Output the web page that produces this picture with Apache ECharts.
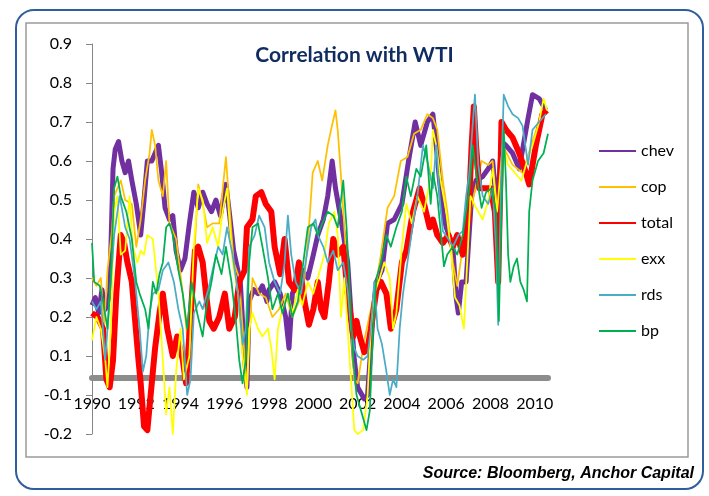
<!DOCTYPE html>
<html>
<head>
<meta charset="utf-8">
<script src="https://cdn.jsdelivr.net/npm/echarts@6/dist/echarts.min.js"></script>
<style>
  html, body { margin: 0; padding: 0; background: #fff; }
  #chart { width: 709px; height: 496px; }
</style>
</head>
<body>
<div id="chart"></div>
<script>
// values are in the axis' own linear units; labels come from yTickLabels
var yTickLabels = ['-0.2', '-0.1', '0.1', '0.2', '0.3', '0.4', '0.5', '0.6', '0.7', '0.8', '0.9']
var yearTicks = [1990, 1992, 1994, 1996, 1998, 2000, 2002, 2004, 2006, 2008, 2010]

var chev = [[1990.0,0.23],[1990.15,0.25],[1990.3,0.21],[1990.45,0.27],[1990.6,0.22],[1990.8,0.26],[1990.95,0.58],[1991.05,0.63],[1991.2,0.65],[1991.35,0.6],[1991.5,0.57],[1991.65,0.6],[1991.8,0.55],[1992.0,0.49],[1992.2,0.41],[1992.35,0.5],[1992.5,0.6],[1992.7,0.6],[1992.85,0.62],[1993.0,0.64],[1993.15,0.57],[1993.3,0.48],[1993.5,0.45],[1993.65,0.46],[1993.8,0.37],[1994.0,0.32],[1994.2,0.35],[1994.4,0.44],[1994.6,0.52],[1994.8,0.48],[1995.0,0.52],[1995.2,0.49],[1995.4,0.47],[1995.6,0.5],[1995.8,0.46],[1996.05,0.54],[1996.2,0.47],[1996.4,0.37],[1996.7,0.29],[1996.9,0.09],[1997.0,0.02],[1997.1,0.24],[1997.3,0.27],[1997.5,0.26],[1997.7,0.28],[1997.9,0.24],[1998.0,0.27],[1998.25,0.29],[1998.5,0.26],[1998.75,0.2],[1998.9,0.12],[1999.05,0.26],[1999.3,0.29],[1999.5,0.32],[1999.75,0.3],[2000.0,0.36],[2000.2,0.41],[2000.45,0.45],[2000.65,0.51],[2000.85,0.6],[2001.0,0.53],[2001.25,0.45],[2001.55,0.34],[2001.7,0.21],[2001.85,0.09],[2002.0,0.02],[2002.3,-0.01],[2002.45,0.0],[2002.7,0.21],[2002.85,0.29],[2003.1,0.32],[2003.35,0.44],[2003.65,0.45],[2004.0,0.49],[2004.3,0.6],[2004.6,0.7],[2004.85,0.64],[2005.15,0.7],[2005.4,0.72],[2005.55,0.64],[2005.7,0.55],[2005.85,0.47],[2006.0,0.43],[2006.3,0.38],[2006.45,0.25],[2006.55,0.21],[2006.7,0.29],[2006.9,0.29],[2007.0,0.38],[2007.15,0.51],[2007.35,0.55],[2007.65,0.56],[2007.9,0.58],[2008.1,0.6],[2008.3,0.47],[2008.5,0.65],[2008.7,0.64],[2009.0,0.62],[2009.3,0.58],[2009.7,0.71],[2009.9,0.77],[2010.2,0.76],[2010.5,0.73]]

var cop = [[1990.0,0.3],[1990.2,0.28],[1990.4,0.3],[1990.55,0.18],[1990.7,0.32],[1990.9,0.42],[1991.0,0.51],[1991.3,0.55],[1991.5,0.5],[1991.8,0.49],[1992.0,0.38],[1992.2,0.45],[1992.4,0.55],[1992.6,0.62],[1992.7,0.68],[1992.85,0.64],[1993.0,0.55],[1993.2,0.51],[1993.35,0.6],[1993.5,0.44],[1993.8,0.4],[1994.1,0.26],[1994.3,0.15],[1994.6,0.34],[1994.8,0.54],[1995.0,0.49],[1995.2,0.43],[1995.45,0.44],[1995.75,0.44],[1996.05,0.61],[1996.2,0.49],[1996.4,0.34],[1996.65,0.3],[1996.9,0.09],[1997.0,0.02],[1997.25,0.3],[1997.55,0.26],[1997.85,0.25],[1998.15,0.2],[1998.45,0.22],[1998.75,0.26],[1999.05,0.2],[1999.35,0.24],[1999.6,0.3],[1999.8,0.43],[1999.97,0.57],[2000.2,0.6],[2000.4,0.55],[2000.65,0.64],[2000.8,0.68],[2001.0,0.73],[2001.1,0.68],[2001.25,0.56],[2001.4,0.43],[2001.55,0.3],[2001.7,0.17],[2001.85,0.04],[2002.0,0.03],[2002.3,0.14],[2002.6,0.22],[2002.85,0.29],[2003.05,0.36],[2003.35,0.48],[2003.65,0.51],[2003.95,0.6],[2004.25,0.61],[2004.55,0.67],[2004.85,0.68],[2005.15,0.72],[2005.4,0.71],[2005.6,0.68],[2005.85,0.55],[2006.05,0.47],[2006.3,0.34],[2006.5,0.28],[2006.75,0.38],[2007.0,0.44],[2007.2,0.5],[2007.6,0.6],[2007.9,0.59],[2008.1,0.6],[2008.3,0.47],[2008.55,0.64],[2009.0,0.59],[2009.45,0.57],[2009.9,0.65],[2010.35,0.73],[2010.55,0.72]]

var total = [[1990.0,0.21],[1990.25,0.2],[1990.5,0.17],[1990.65,0.04],[1990.8,0.02],[1990.95,0.09],[1991.1,0.26],[1991.3,0.41],[1991.45,0.39],[1991.6,0.34],[1991.8,0.29],[1991.95,0.19],[1992.1,0.09],[1992.2,0.03],[1992.35,-0.08],[1992.5,-0.09],[1992.7,0.03],[1992.85,0.12],[1993.05,0.21],[1993.2,0.26],[1993.4,0.17],[1993.65,0.1],[1993.85,0.15],[1994.1,0.09],[1994.25,0.03],[1994.5,0.24],[1994.65,0.37],[1994.8,0.38],[1995.0,0.34],[1995.15,0.26],[1995.3,0.19],[1995.5,0.17],[1995.75,0.2],[1996.0,0.26],[1996.2,0.17],[1996.45,0.2],[1996.65,0.29],[1996.9,0.32],[1997.0,0.43],[1997.25,0.45],[1997.4,0.51],[1997.65,0.52],[1997.85,0.49],[1998.1,0.47],[1998.25,0.38],[1998.5,0.31],[1998.7,0.4],[1998.9,0.29],[1999.15,0.27],[1999.35,0.34],[1999.6,0.24],[1999.8,0.18],[2000.0,0.22],[2000.2,0.29],[2000.35,0.22],[2000.5,0.2],[2000.7,0.29],[2000.9,0.4],[2001.1,0.36],[2001.35,0.38],[2001.55,0.26],[2001.8,0.15],[2001.95,0.19],[2002.1,0.15],[2002.3,0.11],[2002.45,0.12],[2002.6,0.17],[2002.85,0.27],[2003.05,0.29],[2003.3,0.26],[2003.5,0.17],[2003.75,0.22],[2004.0,0.34],[2004.2,0.37],[2004.5,0.47],[2004.8,0.53],[2005.0,0.49],[2005.25,0.43],[2005.4,0.45],[2005.6,0.41],[2005.85,0.39],[2006.1,0.41],[2006.3,0.38],[2006.5,0.41],[2006.75,0.36],[2007.0,0.45],[2007.15,0.64],[2007.25,0.74],[2007.35,0.64],[2007.5,0.53],[2007.75,0.53],[2008.0,0.53],[2008.2,0.47],[2008.35,0.29],[2008.5,0.7],[2008.7,0.68],[2009.0,0.66],[2009.3,0.62],[2009.6,0.57],[2009.75,0.54],[2010.05,0.64],[2010.35,0.72],[2010.55,0.73]]

var exx = [[1990.0,0.14],[1990.2,0.2],[1990.4,0.17],[1990.6,0.09],[1990.7,0.02],[1990.85,0.17],[1991.0,0.47],[1991.15,0.51],[1991.3,0.36],[1991.5,0.37],[1991.7,0.51],[1991.85,0.38],[1992.05,0.34],[1992.2,0.37],[1992.35,0.36],[1992.5,0.41],[1992.75,0.4],[1993.0,0.26],[1993.2,0.09],[1993.35,-0.05],[1993.5,0.02],[1993.65,-0.1],[1993.8,0.06],[1994.0,0.17],[1994.15,0.04],[1994.4,0.1],[1994.6,0.38],[1994.8,0.53],[1995.0,0.5],[1995.2,0.39],[1995.45,0.43],[1995.7,0.38],[1995.9,0.47],[1996.1,0.53],[1996.35,0.34],[1996.6,0.26],[1996.8,0.1],[1997.0,0.0],[1997.1,0.17],[1997.25,0.21],[1997.5,0.17],[1997.7,0.15],[1997.95,0.17],[1998.1,0.12],[1998.25,0.04],[1998.4,0.17],[1998.6,0.22],[1998.85,0.26],[1999.05,0.21],[1999.3,0.27],[1999.5,0.23],[1999.75,0.29],[2000.0,0.26],[2000.2,0.3],[2000.5,0.36],[2000.7,0.44],[2000.95,0.47],[2001.1,0.41],[2001.25,0.2],[2001.4,0.3],[2001.55,0.17],[2001.7,0.04],[2001.85,-0.09],[2002.0,-0.1],[2002.25,-0.09],[2002.45,0.0],[2002.6,0.17],[2002.75,0.26],[2003.0,0.3],[2003.2,0.34],[2003.45,0.3],[2003.6,0.17],[2003.75,0.21],[2004.0,0.38],[2004.2,0.49],[2004.45,0.44],[2004.7,0.51],[2005.0,0.47],[2005.3,0.56],[2005.4,0.68],[2005.55,0.64],[2005.75,0.55],[2006.0,0.47],[2006.2,0.38],[2006.4,0.25],[2006.6,0.23],[2006.8,0.17],[2006.95,0.34],[2007.1,0.51],[2007.35,0.48],[2007.65,0.45],[2007.9,0.5],[2008.1,0.58],[2008.3,0.47],[2008.55,0.64],[2008.8,0.59],[2009.1,0.57],[2009.4,0.55],[2009.6,0.59],[2009.9,0.64],[2010.2,0.7],[2010.4,0.76],[2010.55,0.73]]

var rds = [[1990.0,0.24],[1990.2,0.22],[1990.4,0.24],[1990.6,0.09],[1990.75,0.21],[1991.0,0.41],[1991.25,0.51],[1991.5,0.43],[1991.7,0.4],[1991.95,0.29],[1992.15,0.17],[1992.3,0.06],[1992.45,0.1],[1992.6,0.21],[1992.75,0.26],[1993.0,0.27],[1993.2,0.32],[1993.45,0.34],[1993.7,0.29],[1993.9,0.22],[1994.1,0.17],[1994.3,0.0],[1994.45,0.04],[1994.6,0.21],[1994.85,0.24],[1995.0,0.22],[1995.25,0.27],[1995.45,0.32],[1995.7,0.38],[1995.9,0.36],[1996.1,0.43],[1996.35,0.36],[1996.6,0.26],[1996.8,0.13],[1996.95,0.17],[1997.1,0.38],[1997.35,0.41],[1997.55,0.46],[1997.8,0.43],[1998.0,0.34],[1998.25,0.29],[1998.5,0.26],[1998.7,0.34],[1998.85,0.46],[1999.0,0.36],[1999.2,0.29],[1999.45,0.26],[1999.65,0.34],[1999.9,0.43],[2000.1,0.45],[2000.2,0.41],[2000.45,0.38],[2000.65,0.34],[2000.9,0.37],[2001.1,0.32],[2001.35,0.34],[2001.55,0.27],[2001.7,0.17],[2001.85,0.12],[2002.0,0.1],[2002.25,0.09],[2002.45,0.1],[2002.6,0.17],[2002.75,0.29],[2002.9,0.17],[2003.1,0.13],[2003.3,0.06],[2003.45,0.0],[2003.6,0.04],[2003.75,0.02],[2003.9,0.17],[2004.05,0.26],[2004.25,0.34],[2004.5,0.44],[2004.7,0.51],[2004.95,0.64],[2005.15,0.6],[2005.4,0.53],[2005.55,0.64],[2005.7,0.51],[2005.85,0.42],[2006.1,0.4],[2006.3,0.38],[2006.55,0.41],[2006.75,0.42],[2006.9,0.51],[2007.05,0.57],[2007.18,0.68],[2007.3,0.77],[2007.45,0.59],[2007.65,0.51],[2007.9,0.49],[2008.1,0.53],[2008.25,0.38],[2008.35,0.18],[2008.48,0.55],[2008.6,0.77],[2008.8,0.74],[2009.0,0.72],[2009.25,0.71],[2009.45,0.69],[2009.7,0.59],[2009.9,0.68],[2010.2,0.7],[2010.5,0.72]]

var bp = [[1990.0,0.39],[1990.1,0.29],[1990.35,0.28],[1990.5,0.24],[1990.7,0.17],[1990.85,0.3],[1991.0,0.53],[1991.15,0.56],[1991.3,0.51],[1991.55,0.47],[1991.8,0.4],[1992.0,0.29],[1992.15,0.26],[1992.4,0.22],[1992.55,0.17],[1992.75,0.29],[1992.9,0.26],[1993.05,0.31],[1993.2,0.34],[1993.35,0.43],[1993.5,0.44],[1993.65,0.41],[1993.9,0.32],[1994.1,0.26],[1994.3,0.17],[1994.5,0.29],[1994.75,0.21],[1995.0,0.15],[1995.15,0.22],[1995.4,0.29],[1995.6,0.36],[1995.85,0.31],[1996.05,0.38],[1996.3,0.29],[1996.5,0.19],[1996.65,0.09],[1996.8,0.03],[1996.95,0.09],[1997.1,0.34],[1997.25,0.43],[1997.5,0.44],[1997.7,0.38],[1997.95,0.3],[1998.15,0.22],[1998.4,0.26],[1998.6,0.21],[1998.85,0.26],[1999.05,0.2],[1999.3,0.24],[1999.5,0.32],[1999.75,0.43],[2000.0,0.44],[2000.2,0.41],[2000.4,0.44],[2000.65,0.47],[2000.9,0.46],[2001.1,0.43],[2001.35,0.55],[2001.5,0.43],[2001.65,0.26],[2001.8,0.09],[2001.95,0.0],[2002.15,-0.04],[2002.4,-0.09],[2002.55,-0.04],[2002.7,0.17],[2002.85,0.3],[2003.05,0.34],[2003.3,0.41],[2003.5,0.38],[2003.75,0.43],[2004.0,0.47],[2004.2,0.56],[2004.4,0.51],[2004.65,0.58],[2004.85,0.56],[2005.1,0.64],[2005.3,0.49],[2005.4,0.57],[2005.6,0.51],[2005.75,0.42],[2005.9,0.33],[2006.05,0.36],[2006.3,0.38],[2006.5,0.36],[2006.75,0.41],[2006.9,0.47],[2007.05,0.53],[2007.2,0.64],[2007.35,0.57],[2007.6,0.48],[2007.8,0.52],[2008.05,0.53],[2008.25,0.47],[2008.38,0.19],[2008.48,0.42],[2008.6,0.68],[2008.7,0.55],[2008.8,0.36],[2008.9,0.29],[2009.05,0.33],[2009.2,0.35],[2009.35,0.29],[2009.5,0.27],[2009.65,0.24],[2009.75,0.47],[2009.9,0.55],[2010.15,0.6],[2010.4,0.62],[2010.6,0.67]]

var seriesDefs = [
  { name: 'chev', data: chev, color: '#7030A0', width: 5 },
  { name: 'cop', data: cop, color: '#FFC000', width: 1.75 },
  { name: 'total', data: total, color: '#FF0000', width: 6 },
  { name: 'exx', data: exx, color: '#FFFF00', width: 1.75 },
  { name: 'rds', data: rds, color: '#4BACC6', width: 1.75 },
  { name: 'bp', data: bp, color: '#00B050', width: 1.75 }
]

var font = 'Lato, "Noto Sans", sans-serif'
var chart = echarts.init(document.getElementById('chart'))

chart.setOption({
  backgroundColor: '#fff',
  animation: false,
  title: {
    text: 'Correlation with WTI',
    left: 'center',
    top: 40,
    textStyle: { fontFamily: font, fontSize: 21, fontWeight: 'bold', color: '#0F2B5F' }
  },
  graphic: [
    {
      type: 'rect',
      shape: { x: 16, y: 10, width: 687, height: 479, r: 18 },
      style: { fill: 'none', stroke: '#2F5E9E', lineWidth: 2 },
      silent: true
    },
    {
      type: 'rect',
      shape: { x: 26, y: 23, width: 662, height: 434 },
      style: { fill: 'none', stroke: '#9a9a9a', lineWidth: 1.5 },
      silent: true
    },
    {
      type: 'text',
      right: 15,
      top: 466,
      style: {
        text: 'Source: Bloomberg, Anchor Capital',
        font: 'italic bold 16px "Liberation Sans", Arial, sans-serif',
        fill: '#000'
      },
      silent: true
    }
  ],
  legend: {
    orient: 'vertical',
    left: 593,
    top: 138,
    itemWidth: 37,
    itemHeight: 14,
    itemGap: 20,
    itemStyle: { opacity: 0 },
    textStyle: { fontFamily: font, fontSize: 16, color: '#000' },
    data: seriesDefs.map(function (s) { return s.name })
  },
  grid: { left: 92, top: 44, right: 161, bottom: 62 },
  xAxis: {
    type: 'value',
    min: 1990,
    max: 2010.6,
    interval: 2,
    offset: -56,
    splitLine: { show: false },
    axisTick: { show: false },
    axisLine: { onZero: false, lineStyle: { color: '#8c8c8c', width: 6 } },
    axisLabel: {
      margin: 18,
      fontFamily: font,
      fontSize: 16,
      color: '#000',
      formatter: function (v) {
        return yearTicks.indexOf(Math.round(v * 100) / 100) >= 0 ? String(v) : ''
      }
    }
  },
  yAxis: {
    type: 'value',
    min: -0.1,
    max: 0.9,
    interval: 0.1,
    splitLine: { show: false },
    axisLine: { show: true, lineStyle: { color: '#868686', width: 1 } },
    axisTick: { show: true, length: 6, lineStyle: { color: '#868686' } },
    axisLabel: {
      margin: 20,
      fontFamily: font,
      fontSize: 16,
      color: '#000',
      formatter: function (v) {
        return yTickLabels[Math.round((v + 0.1) * 10)]
      }
    }
  },
  series: seriesDefs.map(function (s) {
    return {
      name: s.name,
      type: 'line',
      data: s.data,
      symbol: 'none',
      showSymbol: false,
      color: s.color,
      lineStyle: { color: s.color, width: s.width, join: 'round' }
    }
  })
})
</script>
</body>
</html>
